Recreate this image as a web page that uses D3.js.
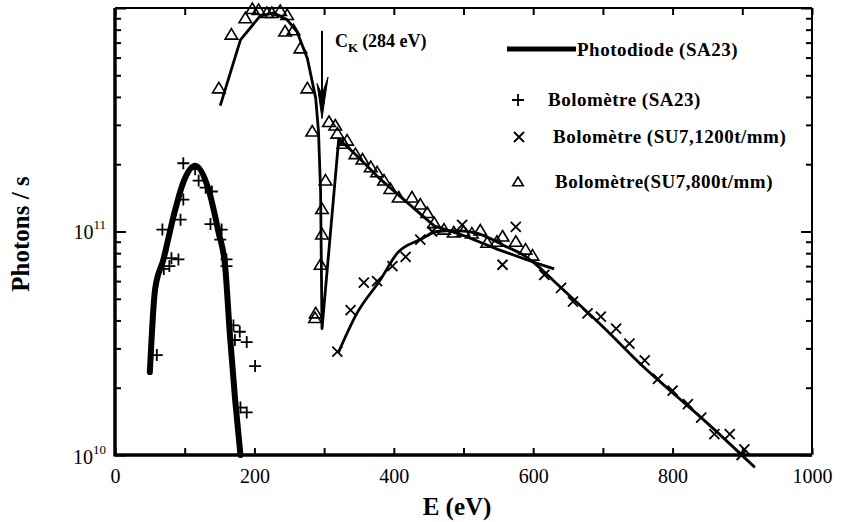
<!DOCTYPE html>
<html>
<head>
<meta charset="utf-8">
<script src="https://cdn.jsdelivr.net/npm/d3@7"></script>
<style>
  body { margin: 0; background: #fff; }
  text { font-family: "Liberation Serif", "DejaVu Serif", serif; fill: #000; }
</style>
</head>
<body>
<script>
// Photodiode (SA23), thick line
var photodiode = [
  [50, 2.35e10], [57.5, 5.5e10], [69.5, 7.5e10], [84, 1.17e11], [98, 1.66e11],
  [115, 1.97e11], [134, 1.55e11], [148.6, 9.9e10], [158, 7.0e10], [165, 3.4e10],
  [172.5, 1.75e10], [180, 1.0e10]
];

// Bolometre (SA23), + markers
var bolo_sa23 = [
  [98, 2.02e11], [115, 1.9e11], [120, 1.69e11], [130, 1.57e11], [139, 1.51e11],
  [98, 1.39e11], [94, 1.13e11], [68, 1.02e11], [137, 1.08e11], [153, 1.02e11],
  [151, 9.2e10], [81, 7.6e10], [91, 7.5e10], [78, 7.0e10], [70, 6.8e10],
  [160, 7.5e10], [160, 7.0e10], [170, 3.8e10], [179, 3.56e10], [172, 3.27e10],
  [189, 3.2e10], [201, 2.5e10], [60, 2.8e10], [180, 1.63e10], [189, 1.55e10]
];

// Bolometre (SU7, 1200t/mm), x markers and its line
var bolo_1200 = [
  [319, 2.9e10], [338, 4.45e10], [357, 5.9e10], [376, 6.0e10], [398, 7.0e10],
  [417, 7.7e10], [438, 9.2e10], [455, 1.0e11], [498, 1.07e11], [575, 1.05e11],
  [556, 7.1e10], [616, 6.4e10], [640, 5.6e10], [657, 4.85e10], [678, 4.3e10],
  [697, 4.16e10], [719, 3.68e10], [738, 3.15e10], [760, 2.65e10], [779, 2.19e10],
  [800, 1.94e10], [822, 1.69e10], [841, 1.47e10], [860, 1.24e10], [882, 1.24e10],
  [903, 1.06e10], [899, 1.0e10]
];
var line_1200 = [
  [320, 2.85e10], [347, 4.3e10], [381, 6.1e10], [405, 8.0e10], [438, 9.2e10],
  [462, 1.0e11], [490, 1.01e11], [520, 9.8e10], [560, 8.6e10], [590, 7.7e10],
  [602, 7.2e10], [640, 5.6e10], [700, 3.75e10], [760, 2.45e10], [800, 1.9e10],
  [841, 1.47e10], [918, 8.8e9]
];

// Bolometre (SU7, 800t/mm), triangles and its line
var bolo_800 = [
  [149, 4.37e11], [167, 7.6e11], [187, 9.0e11], [197, 9.9e11], [206, 9.8e11],
  [218, 9.5e11], [225, 9.5e11], [237, 9.7e11], [247, 9.3e11], [244, 7.85e11],
  [256, 7.95e11], [266, 6.6e11], [276, 4.37e11], [283, 2.8e11], [307, 3.09e11],
  [316, 2.98e11], [319, 2.74e11], [328, 2.47e11], [302, 1.69e11], [297, 1.26e11],
  [297, 9.7e10], [295, 7.1e10], [288, 4.3e10], [287, 4.1e10], [333, 2.55e11],
  [345, 2.22e11], [355, 2.1e11], [367, 1.94e11], [376, 1.84e11], [386, 1.69e11],
  [395, 1.55e11], [407, 1.42e11], [426, 1.42e11], [438, 1.32e11], [448, 1.21e11],
  [458, 1.09e11], [472, 1.02e11], [486, 9.9e10], [500, 1.0e11], [512, 9.8e10],
  [524, 1.01e11], [534, 8.9e10], [548, 9.0e10], [556, 9.5e10], [575, 9.0e10],
  [589, 8.3e10], [599, 7.8e10]
];
var line_800 = [
  [151, 3.66e11], [180, 7.2e11], [208, 9.2e11], [228, 9.5e11], [247, 8.85e11],
  [261, 7.85e11], [276, 5.95e11], [288, 3.94e11], [292, 2.79e11], [295, 1.5e11],
  [297, 3.68e10], [321, 2.6e11], [347, 2.18e11], [381, 1.71e11], [419, 1.35e11],
  [458, 1.06e11], [500, 9.6e10], [550, 8.3e10], [600, 7.3e10], [630, 6.8e10]
];

var x_ticks = [0, 100, 200, 300, 400, 500, 600, 700, 800, 900, 1000];
var edge_ck = 297;   // where the arrow is drawn
var legend_labels = ["Photodiode (SA23)", "Bolomètre (SA23)", "Bolomètre (SU7,1200t/mm)", "Bolomètre(SU7,800t/mm)"];

var width = 843, height = 522;
// note: "top" is a reserved window global, so plot edges get their own names
var plotL = 115, plotR = 812, plotT = 8, plotB = 455;

var svg = d3.select("body").append("svg")
  .attr("width", width)
  .attr("height", height);

var x = d3.scaleLinear()
  .domain([0, 1000])
  .range([plotL, plotR]);

var y = d3.scaleLog()
  .domain([1e10, 1e12])
  .range([plotB, plotT]);

// ---- axes, ticks pointing inside
svg.append("g")
  .attr("transform", "translate(0," + plotB + ")")
  .call(d3.axisBottom(x).tickValues(x_ticks).tickSize(-7).tickPadding(14)
    .tickFormat(function(d) { return d % 200 == 0 ? d : ""; }))
  .call(function(g) { g.select(".domain").remove(); })
  .call(function(g) { g.selectAll(".tick line").attr("stroke-width", 2); })
  .selectAll("text")
    .style("font-size", "20px")
    .style("font-family", "Liberation Serif, serif");

svg.append("g")
  .attr("transform", "translate(0," + plotT + ")")
  .call(d3.axisTop(x).tickValues(x_ticks).tickSize(-7).tickFormat(""))
  .call(function(g) { g.select(".domain").remove(); })
  .call(function(g) { g.selectAll(".tick line").attr("stroke-width", 2); });

var y_ticks = y.ticks();

function logTicks(g, side) {
  g.call(function(g) { g.select(".domain").remove(); });
  g.selectAll(".tick line")
    .attr("stroke-width", 2)
    .attr("x2", function(d) {
      var major = Math.abs(Math.log10(d) - Math.round(Math.log10(d))) < 1e-6;
      var len = major ? 11 : 6;
      return side == "left" ? len : -len;
    });
}

svg.append("g")
  .attr("transform", "translate(" + plotL + ",0)")
  .call(d3.axisLeft(y).tickValues(y_ticks).tickFormat(""))
  .call(logTicks, "left");

svg.append("g")
  .attr("transform", "translate(" + plotR + ",0)")
  .call(d3.axisRight(y).tickValues(y_ticks).tickFormat(""))
  .call(logTicks, "right");

// frame
svg.append("line").attr("x1", plotL).attr("x2", plotL).attr("y1", plotT).attr("y2", plotB + 1.5)
  .attr("stroke", "#000").attr("stroke-width", 3.5);
svg.append("line").attr("x1", plotL).attr("x2", plotR).attr("y1", plotB).attr("y2", plotB)
  .attr("stroke", "#000").attr("stroke-width", 3.5);
svg.append("line").attr("x1", plotL).attr("x2", plotR).attr("y1", plotT).attr("y2", plotT)
  .attr("stroke", "#000").attr("stroke-width", 2);
svg.append("line").attr("x1", plotR).attr("x2", plotR).attr("y1", plotT).attr("y2", plotB)
  .attr("stroke", "#000").attr("stroke-width", 2);

// y labels 10^10, 10^11
[1e10, 1e11].forEach(function(v) {
  var t = svg.append("text")
    .attr("x", plotL - 9)
    .attr("y", y(v) + (v == 1e10 ? 9 : 7))
    .attr("text-anchor", "end")
    .style("font-size", "20px");
  t.append("tspan").text("10");
  t.append("tspan").attr("dy", -10).style("font-size", "13px").text(Math.round(Math.log10(v)));
});

svg.append("text")
  .attr("transform", "translate(29," + 234 + ") rotate(-90)")
  .attr("text-anchor", "middle")
  .style("font-size", "25px")
  .style("font-weight", "bold")
  .text("Photons / s");

svg.append("text")
  .attr("x", 457)
  .attr("y", 515)
  .attr("text-anchor", "middle")
  .style("font-size", "25px")
  .style("font-weight", "bold")
  .text("E (eV)");

// ---- lines
var line = d3.line()
  .x(function(d) { return x(d[0]); })
  .y(function(d) { return y(d[1]); })
  .curve(d3.curveMonotoneX);

svg.append("path").datum(photodiode)
  .attr("d", line).attr("fill", "none").attr("stroke", "#000")
  .attr("stroke-width", 6).attr("stroke-linecap", "round");

svg.append("path").datum(line_800)
  .attr("d", line.curve(d3.curveLinear)).attr("fill", "none").attr("stroke", "#000")
  .attr("stroke-width", 2.8).attr("stroke-linejoin", "round");

svg.append("path").datum(line_1200)
  .attr("d", line.curve(d3.curveMonotoneX)).attr("fill", "none").attr("stroke", "#000")
  .attr("stroke-width", 2.8);

// ---- markers
function plusPath(s) { return "M" + (-s) + ",0H" + s + "M0," + (-s) + "V" + s; }
function crossPath(s) { return "M" + (-s) + "," + (-s) + "L" + s + "," + s + "M" + (-s) + "," + s + "L" + s + "," + (-s); }
function triPath(s) { return "M0," + (-s) + "L" + (s * 1.05) + "," + (s * 0.75) + "L" + (-s * 1.05) + "," + (s * 0.75) + "Z"; }

svg.append("g").selectAll("path")
  .data(bolo_sa23).enter()
  .append("path")
    .attr("transform", function(d) { return "translate(" + x(d[0]) + "," + y(d[1]) + ")"; })
    .attr("d", plusPath(6))
    .attr("stroke", "#000").attr("stroke-width", 1.8).attr("fill", "none");

svg.append("g").selectAll("path")
  .data(bolo_1200).enter()
  .append("path")
    .attr("transform", function(d) { return "translate(" + x(d[0]) + "," + y(d[1]) + ")"; })
    .attr("d", crossPath(5))
    .attr("stroke", "#000").attr("stroke-width", 1.8).attr("fill", "none");

svg.append("g").selectAll("path")
  .data(bolo_800).enter()
  .append("path")
    .attr("transform", function(d) { return "translate(" + x(d[0]) + "," + y(d[1]) + ")"; })
    .attr("d", triPath(6))
    .attr("stroke", "#000").attr("stroke-width", 1.6).attr("fill", "none");

// ---- C_K arrow
var ax = x(edge_ck);
svg.append("line")
  .attr("x1", ax).attr("x2", ax)
  .attr("y1", y(7.9e11)).attr("y2", y(3.6e11))
  .attr("stroke", "#000").attr("stroke-width", 2);
svg.append("path")
  .attr("d", "M" + ax + "," + y(3.2e11) + "L" + (ax - 5) + "," + y(4.6e11) + "L" + ax + "," + y(4.1e11) + "L" + (ax + 6) + "," + y(4.9e11) + "Z")
  .attr("fill", "#000").attr("stroke", "#000").attr("stroke-width", 1);

var ck = svg.append("text")
  .attr("x", ax + 13).attr("y", 47)
  .style("font-size", "18px").style("font-weight", "bold");
ck.append("tspan").text("C");
ck.append("tspan").attr("dy", 5).style("font-size", "13px").text("K");
ck.append("tspan").attr("dy", -5).attr("dx", 4).text("(284 eV)");

// ---- legend
var lg = svg.append("g").style("font-weight", "bold").style("font-size", "19px").style("letter-spacing", "0.5px");

lg.append("line").attr("x1", 507).attr("x2", 576).attr("y1", 49).attr("y2", 49)
  .attr("stroke", "#000").attr("stroke-width", 5);
lg.append("text").attr("x", 577).attr("y", 56).text(legend_labels[0]);

lg.append("path").attr("transform", "translate(518,100)").attr("d", plusPath(6))
  .attr("stroke", "#000").attr("stroke-width", 1.8);
lg.append("text").attr("x", 548).attr("y", 106).text(legend_labels[1]);

lg.append("path").attr("transform", "translate(519,137)").attr("d", crossPath(5))
  .attr("stroke", "#000").attr("stroke-width", 1.8);
lg.append("text").attr("x", 553).attr("y", 143).text(legend_labels[2]);

lg.append("path").attr("transform", "translate(518,182)").attr("d", triPath(5))
  .attr("stroke", "#000").attr("stroke-width", 1.6).attr("fill", "none");
lg.append("text").attr("x", 555).attr("y", 188).text(legend_labels[3]);
</script>
</body>
</html>
